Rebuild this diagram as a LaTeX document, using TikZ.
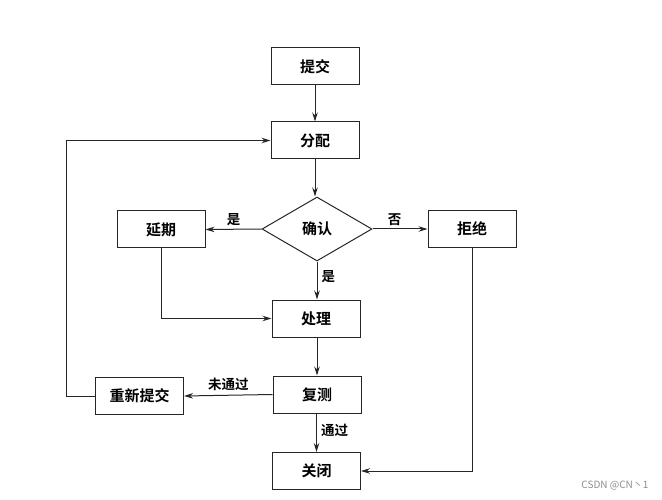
\documentclass[tikz,border=0pt]{standalone}
\usepackage{fontspec}
\newfontfamily\cjk{Noto Sans CJK SC}
\newfontfamily\cjkb{Noto Sans CJK SC Bold}
\usetikzlibrary{shapes.geometric,arrows.meta}
\begin{document}
\begin{tikzpicture}[x=1pt,y=-1pt,
  box/.style={draw=black!85,line width=1pt,minimum width=88pt,minimum height=37pt,inner sep=0pt,font=\cjkb\fontsize{15}{17}\selectfont},
  dec/.style={draw=black!85,line width=1pt,diamond,shape aspect=1.72,minimum width=110pt,minimum height=64pt,inner sep=0pt,font=\cjkb\fontsize{15}{17}\selectfont},
  arr/.style={draw=black!85,line width=1pt,-{Stealth[length=9pt,width=5.5pt]}},
  lab/.style={font=\cjkb\fontsize{13.5}{15}\selectfont,inner sep=1pt}]
\useasboundingbox (0,0) rectangle (662,500);
\node[box] (tj) at (315,66.5) {提交};
\node[box] (fp) at (315,140.5) {分配};
\node[dec] (qr) at (317,229) {确认};
\node[box] (yq) at (161,229.5) {延期};
\node[box] (jj) at (472,229) {拒绝};
\node[box] (cl) at (316,318.5) {处理};
\node[box] (fc) at (317,394.5) {复测};
\node[box] (cx) at (139.5,396) {重新提交};
\node[box] (gb) at (316.5,471) {关闭};
\coordinate (lp) at (66,396);
\draw[arr] (tj) -- (fp);
\draw[arr] (fp.south) -- (fp.south |- qr.north);
\draw[arr] (qr.west) -- (yq.east) node[lab,pos=0.5,above=2pt] {是};
\draw[arr] (qr.east) -- (jj.west) node[lab,pos=0.4,above=2pt] {否};
\draw[arr] (qr.south) -- (qr.south |- cl.north) node[lab,pos=0.4,right=3pt] {是};
\draw[arr] (yq.south) |- (cl.west);
\draw[arr] (cl.south -| fc.north) -- (fc.north);
\draw[arr] (fc.west) -- (cx.east) node[lab,pos=0.5,above=3pt] {未通过};
\draw[arr] (fc.south -| gb.north) -- (gb.north) node[lab,pos=0.45,right=3pt] {通过};
\draw[arr] (jj.south) |- (gb.east);
\draw[arr] (cx.west) -- (lp) |- (fp.west);
\node[font=\cjk\fontsize{10}{12}\selectfont,text=black!45,anchor=east] (wm) at (652,486) {CSDN @CN丶1};
\end{tikzpicture}
\end{document}
